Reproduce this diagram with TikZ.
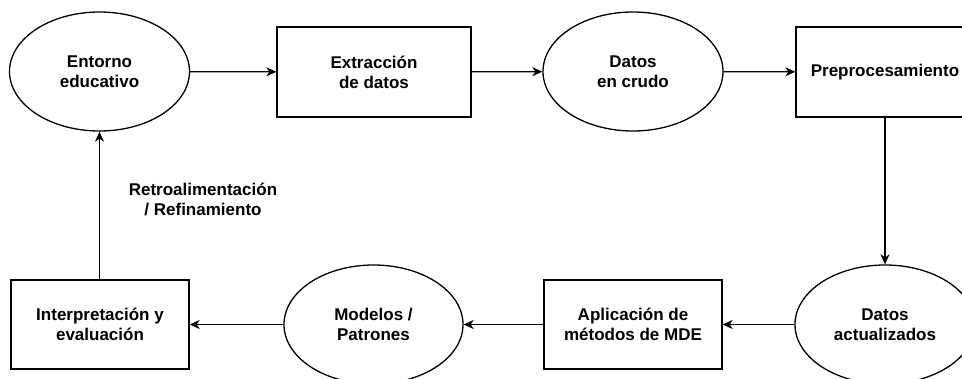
\documentclass[tikz,border=0pt]{standalone}
\usepackage{fontspec}
\setmainfont{Liberation Sans}
\usetikzlibrary{shapes.geometric,arrows.meta}
\begin{document}
\begin{tikzpicture}[x=1pt,y=-1pt,
  every node/.style={font=\fontsize{17}{20}\selectfont\bfseries, align=center, line width=1.3pt},
  ellbox/.style={draw, ellipse, inner sep=0pt, minimum width=180pt, minimum height=119pt},
  rectbox/.style={draw, rectangle, inner sep=0pt, minimum width=178pt, minimum height=90pt},
  conn/.style={line width=1.3pt, -{Stealth[length=10pt,width=9pt,inset=3pt]}}
]
\useasboundingbox (0,0) rectangle (962,378);
\clip (0,0) rectangle (962,378);
\fill[white] (0,0) rectangle (962,378);
\node[ellbox] (ent) at (99.5,71.5) {Entorno\\educativo};
\node[rectbox, minimum width=194pt] (ext) at (374,72) {Extracción\\de datos};
\node[ellbox] (crudo) at (633,71.5) {Datos\\en crudo};
\node[rectbox] (pre) at (885,72) {Preprocesamiento};
\node[ellbox] (act) at (885,324.5) {Datos\\actualizados};
\node[rectbox, minimum height=89pt] (apl) at (633,324.5) {Aplicación de\\métodos de MDE};
\node[ellbox, minimum width=179pt] (mod) at (373.5,324.5) {Modelos /\\Patrones};
\node[rectbox, minimum height=89pt] (int) at (100,324.5) {Interpretación y\\evaluación};
\node (lab) at (203,199) {Retroalimentación\\/ Refinamiento};
\draw[conn] (ent) -- (ext);
\draw[conn] (ext) -- (crudo);
\draw[conn] (crudo) -- (pre);
\draw[conn] (pre) -- (act);
\draw[conn] (act) -- (apl);
\draw[conn] (apl) -- (mod);
\draw[conn] (mod) -- (int);
\draw[conn] (int.north -| ent.south) -- (ent.south);
\end{tikzpicture}
\end{document}
